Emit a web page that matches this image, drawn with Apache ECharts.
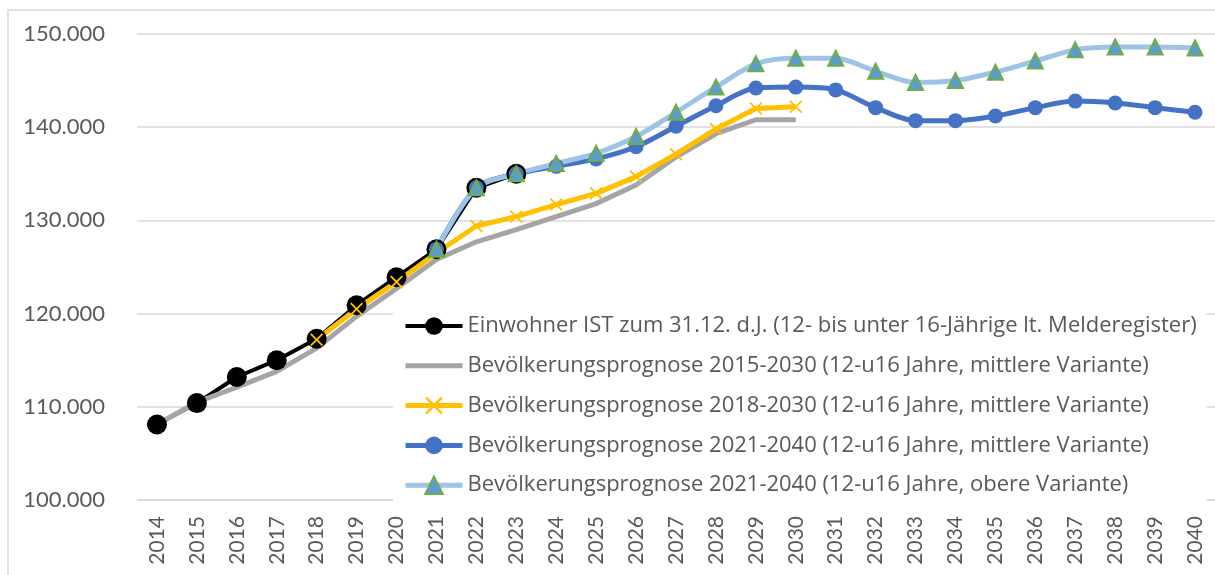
<!DOCTYPE html>
<html>
<head>
<meta charset="utf-8">
<script src="https://cdn.jsdelivr.net/npm/echarts@6/dist/echarts.min.js"></script>
<style>
	html, body { margin: 0; padding: 0; background: #fff; }
	#chart { width: 1215px; height: 575px; }
</style>
</head>
<body>
<div id="chart"></div>
<script>
// Jahre (x-Achse)
var years = ['2014','2015','2016','2017','2018','2019','2020','2021','2022','2023','2024','2025','2026','2027',
	'2028','2029','2030','2031','2032','2033','2034','2035','2036','2037','2038','2039','2040'];

// Einwohner IST (Melderegister)
var istWerte = [108100, 110400, 113200, 115000, 117300, 120900, 123900, 126900, 133500, 135000];

// Prognose 2015-2030
var prog2015 = [108100, 110500, 112100, 113800, 116300, 119700, 122700, 125800, 127700, 129000, 130400, 131800,
	133800, 136800, 139300, 140800, 140800];

// Prognose 2018-2030 (ab 2018)
var prog2018 = [null, null, null, null, 117200, 120500, 123400, 126500, 129400, 130400, 131700, 132900,
	134700, 137100, 139800, 142000, 142200];

// Prognose 2021-2040 mittlere Variante (ab 2021)
var prog2021Mitte = [null, null, null, null, null, null, null, 126900, 133500, 135000, 135800, 136600,
	137900, 140100, 142300, 144200, 144300, 144000, 142100, 140700, 140700, 141200, 142100, 142800,
	142600, 142100, 141600];

// Prognose 2021-2040 obere Variante (ab 2021)
var prog2021Oben = [null, null, null, null, null, null, null, 126900, 133500, 135000, 136100, 137200,
	139000, 141600, 144300, 146800, 147400, 147400, 146000, 144800, 145000, 145900, 147100, 148300,
	148600, 148600, 148500];

var yTicks = { min: 100000, max: 150000, interval: 10000 };

var legendNamen = [
	'Einwohner IST zum 31.12. d.J. (12- bis unter 16-Jährige lt. Melderegister)',
	'Bevölkerungsprognose 2015-2030 (12-u16 Jahre, mittlere Variante)',
	'Bevölkerungsprognose 2018-2030 (12-u16 Jahre, mittlere Variante)',
	'Bevölkerungsprognose 2021-2040 (12-u16 Jahre, mittlere Variante)',
	'Bevölkerungsprognose 2021-2040 (12-u16 Jahre, obere Variante)'
];

// x-Symbol fuer die gelbe Linie
var kreuz = 'path://M0,1 L1,0 L5,4 L9,0 L10,1 L6,5 L10,9 L9,10 L5,6 L1,10 L0,9 L4,5 Z';

var schrift = 'Lato, "Noto Sans", sans-serif';
var grau = '#595959';

function tausender(v){
	return String(v).replace(/\B(?=(\d{3})+(?!\d))/g, '.');
}

var myChart = echarts.init(document.getElementById('chart'));
var option = {
	animation : false,
	backgroundColor : '#fff',
	textStyle : { fontFamily : schrift },
	graphic : [{
		type : 'rect',
		silent : true,
		shape : { x : 8, y : 10, width : 1230, height : 590 },
		style : { fill : 'none', stroke : '#D9D9D9', lineWidth : 1.5 },
		z : -10
	}],
	grid : { left : 137, right : -3, top : 34, bottom : 75 },
	legend : {
		orient : 'vertical',
		left : 393,
		top : 304,
		padding : [10, 10, 8, 10],
		backgroundColor : '#fff',
		itemWidth : 57,
		itemHeight : 22,
		itemGap : 15.8,
		lineStyle : { width : 5 },
		textStyle : { fontSize : 22, color : grau, lineHeight : 24, fontFamily : '"Open Sans", sans-serif' },
		data : [
			{ name : legendNamen[0], lineStyle : { width : 4 } },
			{ name : legendNamen[1], itemStyle : { opacity : 0 } },
			legendNamen[2],
			legendNamen[3],
			legendNamen[4]
		]
	},
	xAxis : {
		type : 'category',
		data : years,
		boundaryGap : true,
		axisLine : { lineStyle : { color : '#D9D9D9', width : 1.5 } },
		axisTick : { show : false },
		axisLabel : { rotate : 90, fontSize : 21, color : grau, margin : 16, interval : 0, fontFamily : schrift }
	},
	yAxis : {
		type : 'value',
		min : yTicks.min,
		max : yTicks.max,
		interval : yTicks.interval,
		axisLine : { show : false },
		axisTick : { show : false },
		splitLine : { lineStyle : { color : '#D9D9D9', width : 1.5 } },
		axisLabel : { fontSize : 22, color : grau, margin : 32, formatter : tausender, fontFamily : schrift }
	},
	series : [{
		name : legendNamen[0],
		type : 'line',
		data : istWerte,
		symbol : 'circle',
		symbolSize : 20,
		lineStyle : { color : '#000', width : 4 },
		itemStyle : { color : '#000' },
		emphasis : { disabled : true }
	},
	{
		name : legendNamen[1],
		type : 'line',
		data : prog2015,
		symbol : 'none',
		lineStyle : { color : '#A5A5A5', width : 5 },
		itemStyle : { color : '#A5A5A5' },
		emphasis : { disabled : true }
	},
	{
		name : legendNamen[2],
		type : 'line',
		data : prog2018,
		symbol : kreuz,
		symbolSize : 13,
		lineStyle : { color : '#FFC000', width : 5 },
		itemStyle : { color : '#FFC000' },
		emphasis : { disabled : true }
	},
	{
		name : legendNamen[3],
		type : 'line',
		data : prog2021Mitte,
		smooth : 0.3,
		symbol : 'circle',
		symbolSize : 15,
		lineStyle : { color : '#4472C4', width : 5 },
		itemStyle : { color : '#4472C4' },
		emphasis : { disabled : true }
	},
	{
		name : legendNamen[4],
		type : 'line',
		data : prog2021Oben,
		smooth : 0.3,
		symbol : 'triangle',
		symbolSize : 15,
		lineStyle : { color : '#9DC3E6', width : 5 },
		itemStyle : { color : '#5B9BD5', borderColor : '#70AD47', borderWidth : 2 },
		emphasis : { disabled : true }
	}]
};
myChart.setOption(option);
</script>
</body>
</html>
